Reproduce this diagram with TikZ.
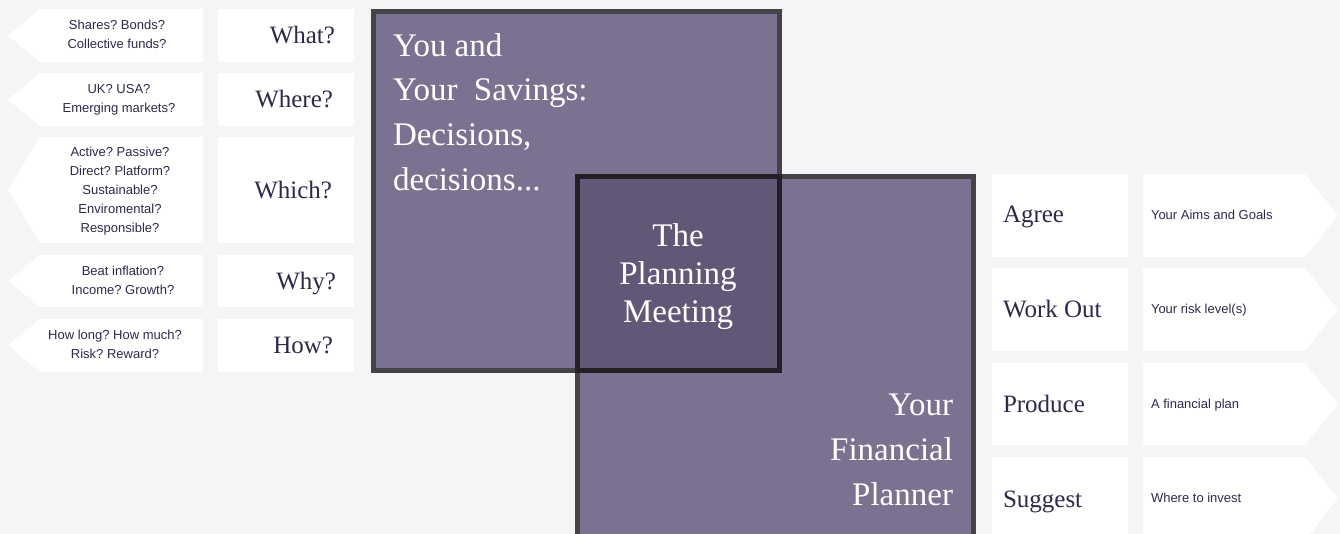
\documentclass[tikz,border=0pt]{standalone}
\usepackage{fontspec}
\setmainfont{Liberation Serif}
\newfontfamily\sansf{Liberation Sans}
\definecolor{bg}{HTML}{F4F5F7}
\definecolor{ink}{HTML}{2C2A4A}
\definecolor{boxc}{HTML}{7A7290}
\definecolor{meetc}{HTML}{615877}
\definecolor{bordc}{HTML}{454248}
\definecolor{meetb}{HTML}{231F25}
\frenchspacing
\begin{document}
\begin{tikzpicture}[x=1pt,y=-1pt,inner sep=0pt,outer sep=0pt,
  small/.style={font=\sansf\fontsize{13}{15}\selectfont,text=ink,anchor=base},
  smallL/.style={small,anchor=base west},
  big/.style={font=\fontsize{25}{30}\selectfont,text=ink},
  bigR/.style={big,anchor=base east},
  bigL/.style={big,anchor=base west},
  huge/.style={font=\fontsize{33}{40}\selectfont,text=white},
  boxstyle/.style={line width=5pt,draw=bordc,fill=boxc},
  meetstyle/.style={line width=5pt,draw=meetb,fill=meetc}]
\fill[bg] (0,0) rectangle (1340,534);
\clip (0,0) rectangle (1340,534);
\useasboundingbox (0,0) rectangle (1340,534);
% left column
\foreach \t/\b in {9/62,73/126,137/243,255/307,319/372}{
  \fill[white] (40,\t) -- (203,\t) -- (203,\b) -- (40,\b) -- (8,{(\t+\b)/2}) -- cycle;
  \fill[white] (218,\t) rectangle (354,\b);
}
% right column
\foreach \t/\b in {174/257,268/351,363/445,457/540}{
  \fill[white] (992,\t) rectangle (1128,\b);
  \fill[white] (1143,\t) -- (1305,\t) -- (1338,{(\t+\b)/2}) -- (1305,\b) -- (1143,\b) -- cycle;
}
% big boxes
\draw[boxstyle] (373.5,11.5) rectangle (779.5,370.5);
\draw[boxstyle] (577.5,176.5) rectangle (973.5,545);
\draw[meetstyle] (577.5,176.5) rectangle (779.5,370.5);
% left small texts
\node[small] (s1a) at (117,30) {Shares? Bonds?};
\node[small] (s1b) at (117,49) {Collective funds?};
\node[small] (s2a) at (119,94) {UK? USA?};
\node[small] (s2b) at (119,113) {Emerging markets?};
\node[small] (s3a) at (120,157) {Active? Passive?};
\node[small] (s3b) at (120,176) {Direct? Platform?};
\node[small] (s3c) at (120,195) {Sustainable?};
\node[small] (s3d) at (120,214) {Enviromental?};
\node[small] (s3e) at (120,233) {Responsible?};
\node[small] (s4a) at (123,276) {Beat inflation?};
\node[small] (s4b) at (123,295) {Income? Growth?};
\node[small] (s5a) at (115,339) {How long? How much?};
\node[small] (s5b) at (115,358) {Risk? Reward?};
% left big labels
\node[bigR] (w1) at (335,44) {What?};
\node[bigR] (w2) at (333,108) {Where?};
\node[bigR] (w3) at (332,199) {Which?};
\node[bigR] (w4) at (336,290) {Why?};
\node[bigR] (w5) at (333,353) {How?};
% right labels
\node[bigL] (r1) at (1003,223) {Agree};
\node[bigL] (r2) at (1003,317) {Work Out};
\node[bigL] (r3) at (1003,412) {Produce};
\node[bigL] (r4) at (1003,507) {Suggest};
\node[smallL] (t1) at (1151,220) {Your Aims and Goals};
\node[smallL] (t2) at (1151,314) {Your risk level(s)};
\node[smallL] (t3) at (1151,408) {A financial plan};
\node[smallL] (t4) at (1151,502) {Where to invest};
% box texts
\node[huge,anchor=base west] (y1) at (393,57) {You and};
\node[huge,anchor=base west] (y2) at (393,101) {Your\ \ Savings:};
\node[huge,anchor=base west] (y3) at (393,146) {Decisions,};
\node[huge,anchor=base west] (y4) at (393,191) {decisions...};
\node[huge,anchor=base] (m1) at (678,247) {The};
\node[huge,anchor=base] (m2) at (678,285) {Planning};
\node[huge,anchor=base] (m3) at (678,323) {Meeting};
\node[huge,anchor=base east] (p1) at (953,415) {Your};
\node[huge,anchor=base east] (p2) at (953,460) {Financial};
\node[huge,anchor=base east] (p3) at (953,505) {Planner};
\end{tikzpicture}
\end{document}
